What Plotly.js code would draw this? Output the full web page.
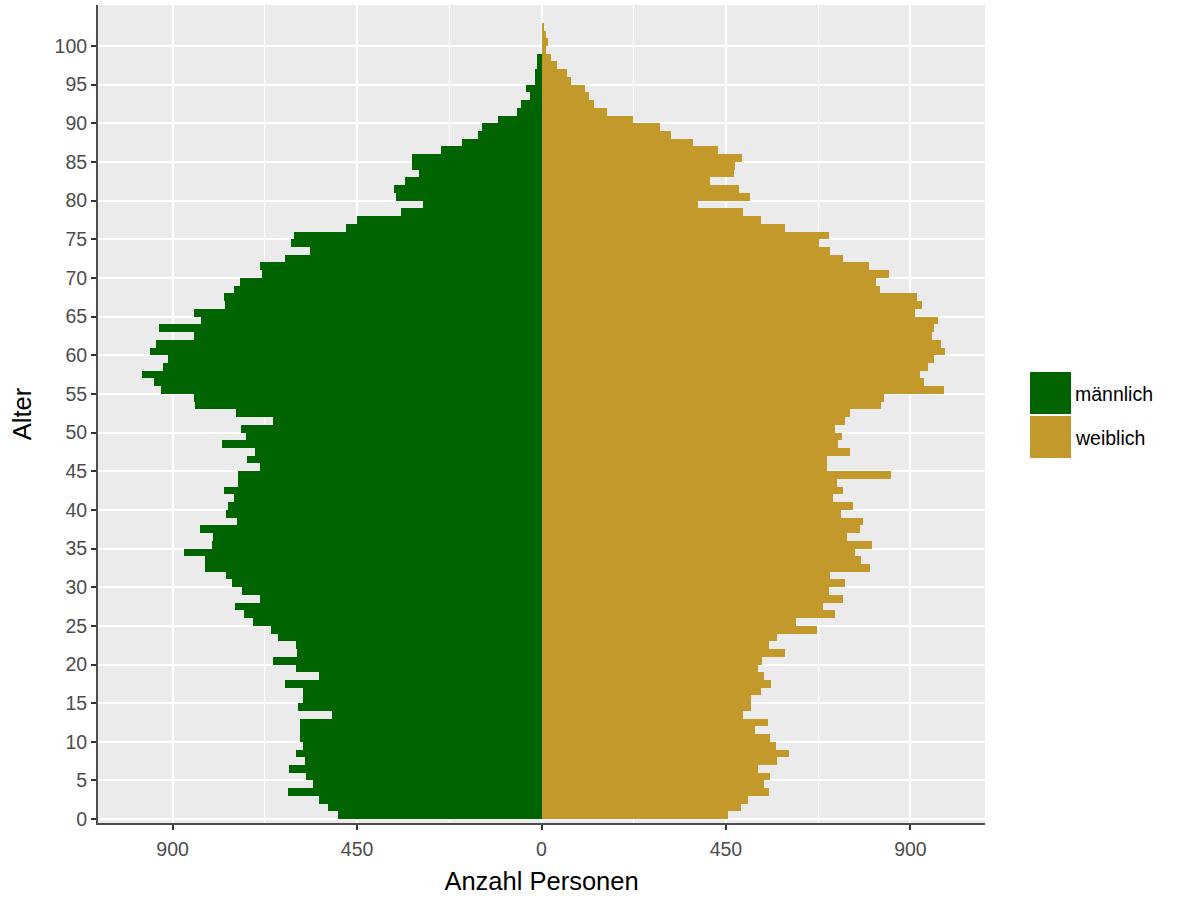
<!DOCTYPE html>
<html><head><meta charset="utf-8">
<script src="https://cdn.plot.ly/plotly-3.0.1.min.js"></script>
<style>html,body{margin:0;padding:0;background:#fff}#chart{width:1186px;height:901px}</style>
</head><body><div id="chart"></div>
<script>
// Alter (age groups, each bar covers [age, age+1])
const ages = [0,1,2,3,4,5,6,7,8,9,10,11,12,13,14,15,16,17,18,19,20,21,22,23,24,25,26,27,28,29,30,31,32,33,34,35,36,37,38,39,40,41,42,43,44,45,46,47,48,49,50,51,52,53,54,55,56,57,58,59,60,61,62,63,64,65,66,67,68,69,70,71,72,73,74,75,76,77,78,79,80,81,82,83,84,85,86,87,88,89,90,91,92,93,94,95,96,97,98,99,100,101,102,103,104];

// Anzahl Personen, männlich
const maleCounts = [496,522,544,618,557,574,615,576,598,583,588,588,588,510,593,583,581,627,544,598,654,596,598,644,659,703,727,747,688,730,754,769,820,820,871,803,801,832,742,769,764,749,774,740,740,686,718,698,779,720,732,654,745,845,847,928,945,974,923,911,954,940,847,933,830,849,771,774,749,735,681,686,627,566,610,603,478,449,342,290,354,359,334,298,317,317,244,193,156,144,105,59,49,27,39,17,15,10,10,0,0,0,0,0,0];

// Anzahl Personen, weiblich
const femaleCounts = [454,486,505,554,542,557,527,574,603,571,557,522,552,491,510,510,535,559,544,527,539,593,554,574,671,622,715,686,735,701,740,703,801,779,764,806,745,776,784,730,759,710,735,720,852,696,696,752,723,732,715,740,752,828,835,981,932,923,942,957,984,974,952,957,967,911,928,915,825,815,847,798,735,703,676,701,593,535,491,381,508,481,410,469,471,488,430,369,317,288,222,161,129,117,105,71,61,37,24,12,17,12,5,2,2];

const seriesNames = ['männlich', 'weiblich'];
const seriesColors = ['#006400', '#C4992C'];

const xTickValues = [-900, -450, 0, 450, 900];
const xTickLabels = ['900', '450', '0', '450', '900'];
const xMinorValues = [-675, -225, 225, 675];
const yTickValues = [0,5,10,15,20,25,30,35,40,45,50,55,60,65,70,75,80,85,90,95,100];

const W = 1186, H = 901;
const M = {l: 98, r: 201, t: 5, b: 78};
const pw = W - M.l - M.r, ph = H - M.t - M.b;
const px = x => (x - M.l) / pw;
const py = y => (H - M.b - y) / ph;

const FAM = 'Liberation Sans, Arial, Helvetica, sans-serif';

const traces = [
  {type: 'bar', orientation: 'h', y: ages, x: maleCounts.map(v => -v), width: 1, offset: 0,
   name: seriesNames[0], marker: {color: seriesColors[0], line: {width: 0}}, showlegend: false,
   hovertemplate: 'Alter %{y}: %{customdata}<extra>männlich</extra>', customdata: maleCounts},
  {type: 'bar', orientation: 'h', y: ages, x: femaleCounts, width: 1, offset: 0,
   name: seriesNames[1], marker: {color: seriesColors[1], line: {width: 0}}, showlegend: false,
   hovertemplate: 'Alter %{y}: %{x}<extra>weiblich</extra>'}
];

const tickFont = {family: FAM, size: 19.5, color: '#4D4D4D'};
const titleFont = {family: FAM, size: 25.5, color: '#000000'};
const legendFont = {family: FAM, size: 19.5, color: '#000000'};

const layout = {
  width: W, height: H,
  margin: M,
  paper_bgcolor: '#FFFFFF',
  plot_bgcolor: '#EBEBEB',
  barmode: 'overlay',
  bargap: 0,
  showlegend: false,
  font: {family: FAM},
  xaxis: {
    range: [-1082, 1082], tickmode: 'array', tickvals: xTickValues, ticktext: xTickLabels,
    showgrid: true, gridcolor: '#FFFFFF', gridwidth: 2, zeroline: false,
    showline: true, linecolor: '#4D4D4D', linewidth: 2,
    ticks: 'outside', ticklen: 5, tickwidth: 2, tickcolor: '#333333',
    ticklabelstandoff: 3,
    tickfont: tickFont, automargin: false,
    minor: {tickmode: 'array', tickvals: xMinorValues, showgrid: true, gridcolor: '#FFFFFF', gridwidth: 1.3, ticks: ''},
    title: {text: 'Anzahl Personen', font: titleFont, standoff: 13}
  },
  yaxis: {
    range: [-0.5, 105.3], tickmode: 'array', tickvals: yTickValues,
    showgrid: true, gridcolor: '#FFFFFF', gridwidth: 2, zeroline: false,
    showline: true, linecolor: '#4D4D4D', linewidth: 2,
    ticks: 'outside', ticklen: 5, tickwidth: 2, tickcolor: '#333333',
    tickfont: tickFont, automargin: false,
    title: {text: 'Alter', font: titleFont, standoff: 16}
  },
  shapes: [
    {type: 'rect', xref: 'paper', yref: 'paper', x0: px(1030), x1: px(1071), y0: py(414), y1: py(372),
     fillcolor: seriesColors[0], line: {width: 0}},
    {type: 'rect', xref: 'paper', yref: 'paper', x0: px(1030), x1: px(1071), y0: py(458), y1: py(416),
     fillcolor: seriesColors[1], line: {width: 0}}
  ],
  annotations: [
    {xref: 'paper', yref: 'paper', x: px(1073), y: py(394), xanchor: 'left', yanchor: 'middle',
     text: seriesNames[0], showarrow: false, font: legendFont},
    {xref: 'paper', yref: 'paper', x: px(1073), y: py(438), xanchor: 'left', yanchor: 'middle',
     text: seriesNames[1], showarrow: false, font: legendFont}
  ]
};

Plotly.newPlot('chart', traces, layout, {displayModeBar: false, staticPlot: true});
</script>
</body></html>
